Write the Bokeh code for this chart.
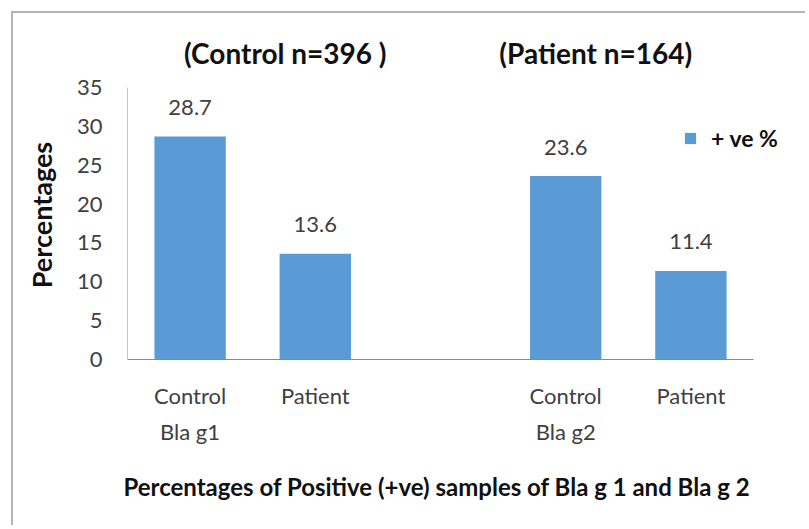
from bokeh.plotting import figure
from bokeh.models import (ColumnDataSource, Range1d, FixedTicker, LabelSet,
                          LinearAxis, Legend, LegendItem, Title)
from bokeh.core.properties import value
from bokeh.embed import file_html
from bokeh.resources import INLINE

# ---- data ----
keys = ["c1", "p1", "gap", "c2", "p2"]
tick_labels = ["Control\nBla g1", "Patient", "", "Control\nBla g2", "Patient"]
bar_keys = ["c1", "p1", "c2", "p2"]
values = [28.7, 13.6, 23.6, 11.4]
value_text = ["28.7", "13.6", "23.6", "11.4"]
group_titles = ["(Control n=396 )", "(Patient n=164)"]
group_title_pos = [1.26, 3.74]      # centre of each group title, in category slots
y_ticks = [0, 5, 10, 15, 20, 25, 30, 35]
series_name = "+ ve %"
x_title = "Percentages of Positive (+ve) samples of Bla g 1 and Bla g 2"
y_title = "Percentages"

FONT = "Lato"
BLUE = "#5B9BD5"

# category slot centres
xpos = [keys.index(k) + 0.5 for k in bar_keys]
tick_pos = [i + 0.5 for i, t in enumerate(tick_labels) if t]
src = ColumnDataSource(dict(x=xpos, top=values, txt=value_text))

# layout (canvas px)
W, H = 794, 514
FL, FR, FT, FB = 114, 17, 57, 168
frame_w = W - FL - FR
frame_h = H - FT - FB
slot_px = 125.2
unit_px = 272 / 35.0

p = figure(width=W, height=H, output_backend="svg", toolbar_location=None,
           x_range=Range1d(0, frame_w / slot_px),
           y_range=Range1d(0, frame_h / unit_px),
           min_border_left=FL, min_border_right=FR,
           min_border_top=FT, min_border_bottom=FB)
p.styles = {"margin-left": "11px", "margin-top": "11px",
            "border-top": "2px solid #b4b4b4", "border-left": "2px solid #b4b4b4"}
p.outline_line_color = None
p.grid.grid_line_color = None
p.background_fill_color = "white"
p.border_fill_color = "white"

r = p.vbar(x="x", top="top", width=0.57, source=src, fill_color=BLUE, line_color=None)

# y axis
ya = p.yaxis[0]
ya.ticker = FixedTicker(ticks=y_ticks)
ya.bounds = (0, 35)
ya.major_tick_line_color = None
ya.minor_tick_line_color = None
ya.axis_line_color = "#b4c6e0"
ya.major_label_text_font = FONT
ya.major_label_text_font_size = "22px"
ya.major_label_text_color = "#404040"
ya.major_label_standoff = 19
ya.axis_label = y_title
ya.axis_label_text_font = FONT
ya.axis_label_text_font_style = "bold"
ya.axis_label_text_font_size = "27px"
ya.axis_label_text_color = "#111111"
ya.axis_label_standoff = 16

# x axis
xa = p.xaxis[0]
xa.ticker = FixedTicker(ticks=tick_pos)
xa.bounds = (0, len(keys))
xa.major_label_overrides = {pos: t for pos, t in zip(tick_pos, [t for t in tick_labels if t])}
xa.major_tick_line_color = None
xa.minor_tick_line_color = None
xa.axis_line_color = "#888888"
xa.major_label_text_font = FONT
xa.major_label_text_font_size = "22px"
xa.major_label_text_color = "#404040"
xa.major_label_text_line_height = 1.35
xa.major_label_standoff = 16

# x-axis title, right-aligned to the end of the axis line
p.add_layout(Title(text=x_title, align="right", offset=40, standoff=44,
                   text_font=FONT, text_font_style="bold", text_font_size="24px",
                   text_color="#111111"), "below")

# group titles: an axis above the plot, labelled at each group's centre
ta = LinearAxis(ticker=FixedTicker(ticks=group_title_pos),
                major_label_overrides=dict(zip(group_title_pos, group_titles)),
                axis_line_color=None, major_tick_line_color=None,
                minor_tick_line_color=None, major_label_standoff=-5,
                major_label_text_font=FONT, major_label_text_font_style="bold",
                major_label_text_font_size="28px", major_label_text_color="#111111")
p.add_layout(ta, "above")

# value labels
labels = LabelSet(x="x", y="top", text="txt", source=src, y_offset=29,
                  text_align="center", text_baseline="middle",
                  text_font=value(FONT), text_font_size="22px", text_color="#404040")
p.add_layout(labels)

# legend
leg = Legend(items=[LegendItem(label=series_name, renderers=[r])],
             location=(556, 207), orientation="vertical",
             padding=0, margin=0, spacing=0,
             glyph_width=14, glyph_height=14, label_standoff=14,
             label_text_font=FONT, label_text_font_style="bold",
             label_text_font_size="23px", label_text_color="#111111",
             border_line_color=None, background_fill_alpha=0)
p.add_layout(leg)

open("out.html", "w").write(file_html(p, INLINE))
